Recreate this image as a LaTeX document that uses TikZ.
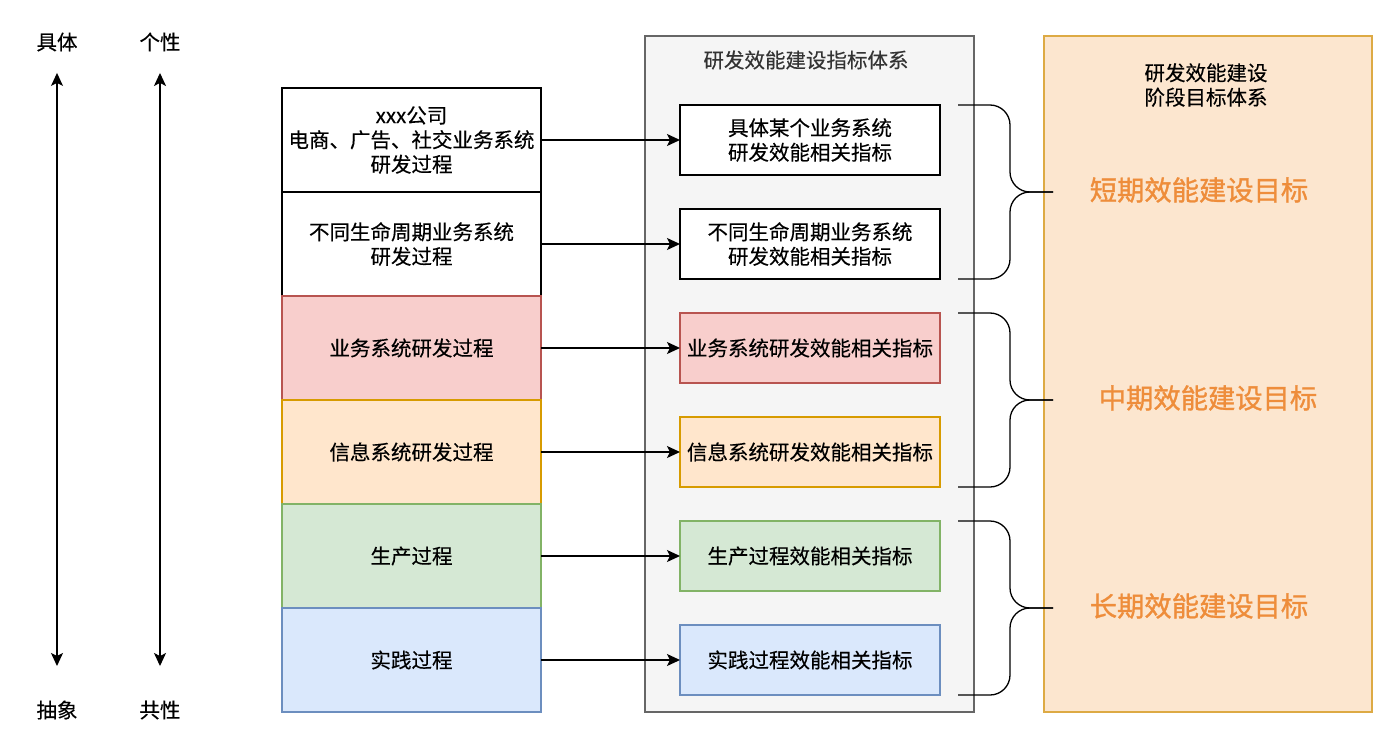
\documentclass[tikz,border=0pt]{standalone}
\usepackage{fontspec}
\setmainfont{Noto Sans CJK SC}[FakeBold=0.3]
\newfontfamily\goalfont{Noto Sans CJK SC}[FakeBold=1.2]
\usetikzlibrary{positioning,arrows.meta}

\definecolor{redfill}{HTML}{F8CECC}
\definecolor{redline}{HTML}{B85450}
\definecolor{orgfill}{HTML}{FFE6CC}
\definecolor{orgline}{HTML}{D79B00}
\definecolor{grnfill}{HTML}{D5E8D4}
\definecolor{grnline}{HTML}{82B366}
\definecolor{blufill}{HTML}{DAE8FC}
\definecolor{bluline}{HTML}{6C8EBF}
\definecolor{sysfill}{HTML}{F5F5F5}
\definecolor{sysline}{HTML}{666666}
\definecolor{stagefill}{HTML}{FCE6CF}
\definecolor{stageline}{HTML}{DDAA44}
\definecolor{goalorange}{HTML}{EE8D3B}

\begin{document}
\begin{tikzpicture}[x=1pt,y=-1pt,>={Stealth[length=13pt,width=12pt,inset=3pt]},
  every node/.style={font=\fontsize{20.5}{24.5}\selectfont},
  proc/.style={draw,line width=1.3pt,minimum width=259pt,minimum height=104pt,
    inner sep=0pt,outer sep=0pt,align=center},
  metric/.style={draw,line width=1.3pt,minimum width=260pt,minimum height=70pt,
    inner sep=0pt,outer sep=0pt,align=center},
  goal/.style={text=goalorange,font=\goalfont\fontsize{27.3}{32}\selectfont},
  brace/.style={line width=1.3pt,rounded corners=20pt},
  link/.style={->,line width=1.3pt}]
\useasboundingbox (0,0) rectangle (1400,749);

% containers
\node[draw=sysline,fill=sysfill,line width=1.3pt,minimum width=329pt,
  minimum height=676pt,inner sep=0pt] (sys) at (809.5,374) {};
\node[text=black!80] (systitle) at (806,60) {研发效能建设指标体系};
\node[draw=stageline,fill=stagefill,line width=1.3pt,minimum width=328pt,
  minimum height=676pt,inner sep=0pt] (stage) at (1208,374) {};
\node[align=center] (stagetitle) at (1206,85) {研发效能建设\\阶段目标体系};

% processes
\node[proc] (p1) at (411.5,140) {xxx公司\\电商、广告、社交业务系统\\研发过程};
\node[proc,below=0pt of p1] (p2) {不同生命周期业务系统\\研发过程};
\node[proc,below=0pt of p2,draw=redline,fill=redfill] (p3) {业务系统研发过程};
\node[proc,below=0pt of p3,draw=orgline,fill=orgfill] (p4) {信息系统研发过程};
\node[proc,below=0pt of p4,draw=grnline,fill=grnfill] (p5) {生产过程};
\node[proc,below=0pt of p5,draw=bluline,fill=blufill] (p6) {实践过程};

% metrics
\node[metric,fill=white,right=139pt of p1] (m1) {具体某个业务系统\\研发效能相关指标};
\node[metric,fill=white,right=139pt of p2] (m2) {不同生命周期业务系统\\研发效能相关指标};
\node[metric,right=139pt of p3,draw=redline,fill=redfill] (m3) {业务系统研发效能相关指标};
\node[metric,right=139pt of p4,draw=orgline,fill=orgfill] (m4) {信息系统研发效能相关指标};
\node[metric,right=139pt of p5,draw=grnline,fill=grnfill] (m5) {生产过程效能相关指标};
\node[metric,right=139pt of p6,draw=bluline,fill=blufill] (m6) {实践过程效能相关指标};

\foreach \i in {1,...,6}
  \draw[link] (p\i) -- (m\i);

% goals
\node[goal] (g1) at (1199,190) {短期效能建设目标};
\node[goal] (g2) at (1208,398) {中期效能建设目标};
\node[goal] (g3) at (1199,606) {长期效能建设目标};
\coordinate (t1) at (1053,192);
\coordinate (t2) at (1053,400);
\coordinate (t3) at (1053,608);

% braces
\foreach \a/\b/\t in {m1/m2/t1,m3/m4/t2,m5/m6/t3} {
  \draw[brace] ([xshift=18pt]\a.north east) -| ([xshift=70pt]\a.north east |- \t) -- (\t);
  \draw[brace] ([xshift=18pt]\b.south east) -| ([xshift=70pt]\b.south east |- \t) -- (\t);
}

% scales
\node (concrete) at (57,42) {具体};
\node (abstract) at (57,710) {抽象};
\node (single) at (160,42) {个性};
\node (common) at (160,710) {共性};
\draw[<->,line width=1.3pt,shorten <=18pt,shorten >=31pt] (concrete) -- (abstract);
\draw[<->,line width=1.3pt,shorten <=18pt,shorten >=31pt] (single) -- (common);
\end{tikzpicture}
\end{document}
